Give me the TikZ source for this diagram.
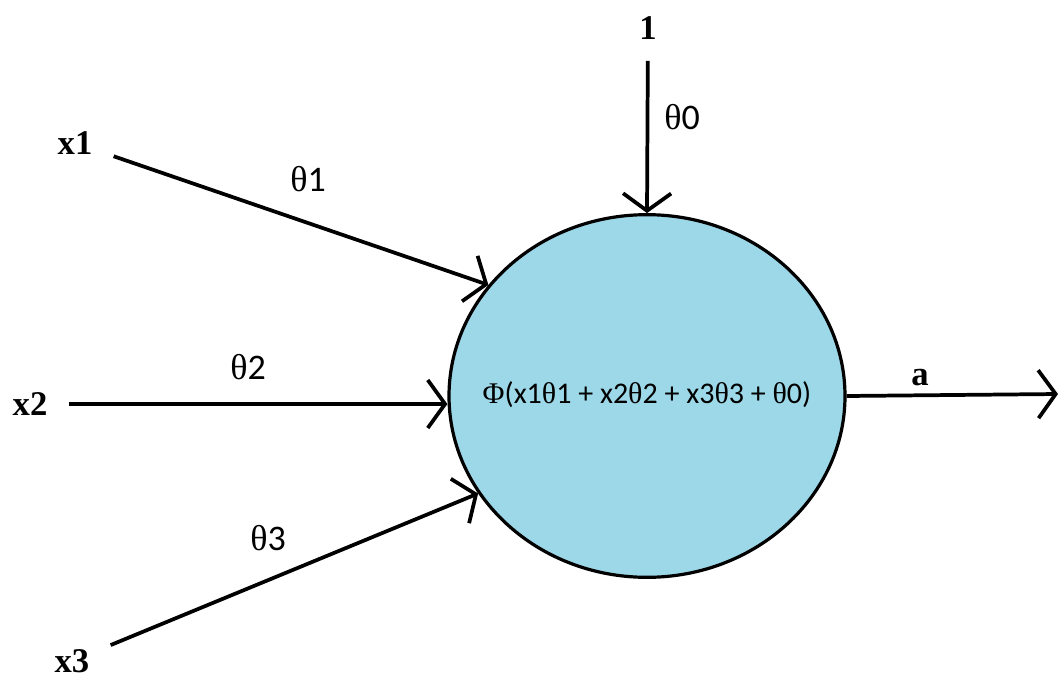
\documentclass[tikz,border=0pt]{standalone}
\usepackage{fontspec}
\setmainfont{Liberation Serif}
\newfontfamily\calfont{Carlito}
\usetikzlibrary{arrows.meta, shapes.geometric, positioning}
\definecolor{cellblue}{RGB}{157,216,232}
\newcommand{\wth}{{\rmfamily θ}}
\tikzset{
    inputnode/.style = {font=\bfseries\fontsize{26}{30}\selectfont,
        inner sep=0pt, outer sep=16pt},
    weight/.style = {font=\calfont\fontsize{27}{30}\selectfont, inner sep=0pt},
    neuron/.style = {ellipse, draw=black, line width=2.4pt, fill=cellblue,
        minimum width=297pt, minimum height=272pt, inner sep=0pt,
        font=\calfont\fontsize{22.5}{26}\selectfont},
}

\begin{document}
\begin{tikzpicture}[x=0.75pt, y=-0.75pt, ->, >={Straight Barb[length=13pt,width=36pt]}, line width=2.8pt]
            \useasboundingbox (0,0) rectangle (1061,678);
            \node (cell) [neuron] at (647,396) {\makebox[0pt]{\raisebox{4.5pt}{{\rmfamily Φ}(x1\wth1 + x2\wth2 + x3\wth3 + \wth0)}}};
            \node (x1) [inputnode] at (75,143) {x1};
            \node (x2) [inputnode] at (30,404) {x2};
            \node (x3) [inputnode] at (72,661) {x3};
            \node (bias) [inputnode] at (648,28) {1};
            \coordinate (out) at (1058,394);
            \draw (x1) -- (cell.145);
            \draw (x2) -- (x2 -| cell.west);
            \draw (x3) -- (cell.210);
            \draw (bias) -- (cell.north);
            \draw (cell.east) -- (out);
            \node (w1) [weight] at (308,179) {\wth1};
            \node (w2) [weight] at (248,367) {\wth2};
            \node (w3) [weight] at (268,538) {\wth3};
            \node (w0) [weight] at (682,117) {\wth0};
            \node (act) [inputnode, outer sep=0pt] at (920,378) {a};
\end{tikzpicture}
\end{document}
